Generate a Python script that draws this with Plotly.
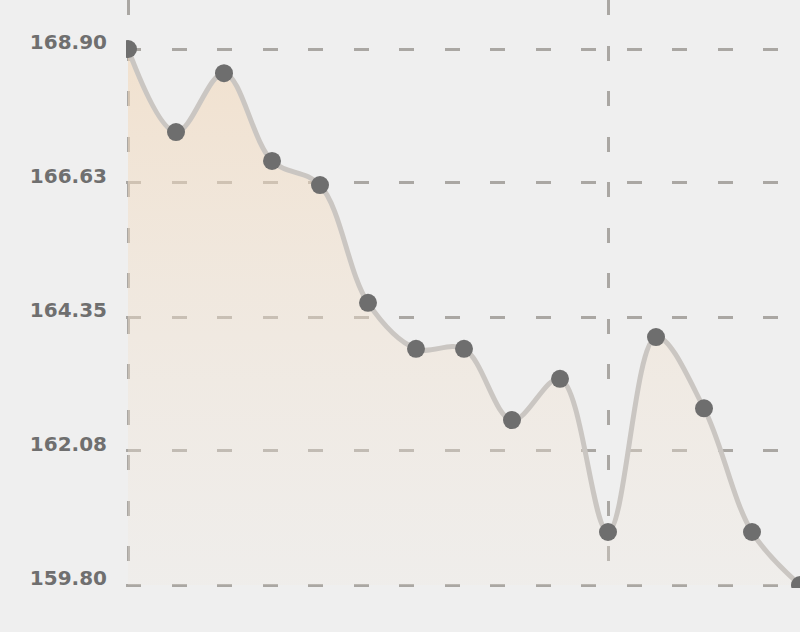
import plotly.graph_objects as go

# valores
indices = list(range(15))
valores = [168.90, 167.49, 168.49, 167.00, 166.59, 164.59, 163.81, 163.81,
           162.60, 163.30, 160.70, 164.01, 162.80, 160.70, 159.80]
ticks_y = [159.80, 162.08, 164.35, 166.63, 168.90]
ticks_y_txt = ["159.80", "162.08", "164.35", "166.63", "168.90"]
ticks_x = [0, 10]

base = min(ticks_y)
px_por_unidade = 536 / (max(ticks_y) - base)

fig = go.Figure()

# linha de base para o preenchimento
fig.add_trace(go.Scatter(
    x=indices, y=[base] * len(indices), mode="lines",
    line=dict(width=0), hoverinfo="skip", showlegend=False,
))

fig.add_trace(go.Scatter(
    x=indices, y=valores, mode="lines+markers",
    line=dict(shape="spline", smoothing=1.0, color="#cac6c2", width=5),
    marker=dict(size=18, color="#6e6e6e"),
    fill="tonexty",
    fillgradient=dict(
        type="vertical",
        colorscale=[[0, "rgba(240,232,222,0.25)"], [1, "rgba(243,216,185,0.6)"]],
    ),
    showlegend=False,
))

grid = dict(gridcolor="#aaa7a3", gridwidth=2.5, griddash="15px,30.5px")

# pequena folga nas bordas para o plotly desenhar as linhas de grade dos extremos
folga_x = 2 / 48
folga_y = 3 / px_por_unidade

fig.update_xaxes(
    range=[-folga_x, 14], tickvals=ticks_x, showticklabels=False,
    zeroline=False, showline=False, **grid,
)
fig.update_yaxes(
    range=[base - folga_y, base + 585 / px_por_unidade],
    tickvals=ticks_y, ticktext=ticks_y_txt,
    ticklabelstandoff=18, ticklabelshift=-7,
    tickfont=dict(family="DejaVu Sans", size=20, color="#6f6f6f", weight="bold"),
    zeroline=False, showline=False, **grid,
)

fig.update_layout(
    width=800, height=632,
    margin=dict(l=126, r=0, t=0, b=44),
    paper_bgcolor="#efefef", plot_bgcolor="#efefef",
)

fig.write_html(
    "out.html",
    config={"displayModeBar": False},
    post_script="document.body.style.margin='0px';",
)
